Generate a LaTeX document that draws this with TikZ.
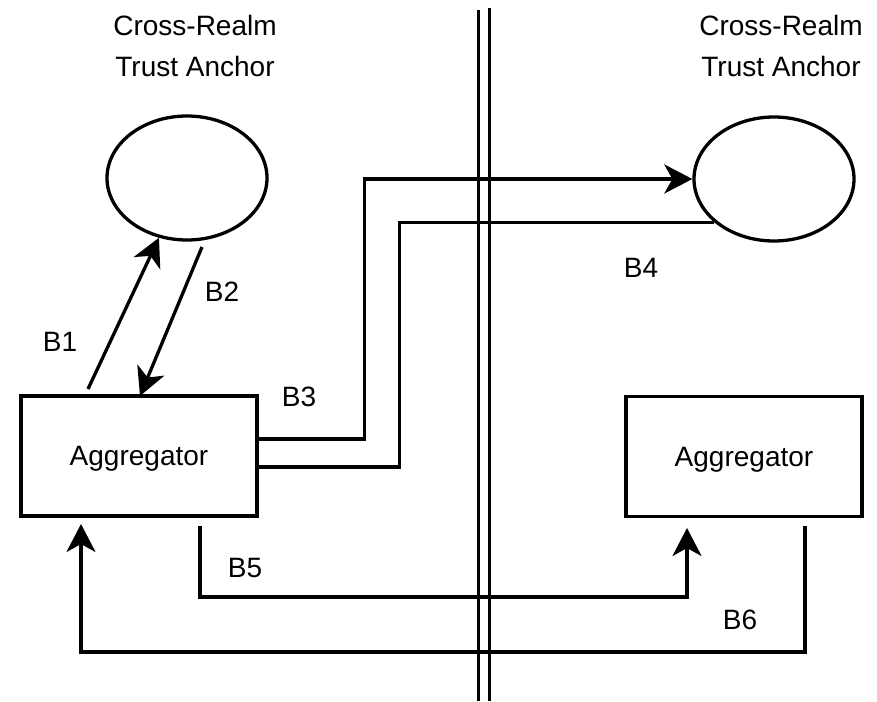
\documentclass[tikz,border=0pt]{standalone}
\usepackage{fontspec}
\setmainfont{Liberation Sans}
\usetikzlibrary{shapes.geometric,arrows.meta}
\begin{document}
\begin{tikzpicture}[x=1pt,y=-1pt,
  every node/.style={font=\fontsize{28}{41}\selectfont},
  wire/.style={line width=3.3pt,line join=miter},
  tip/.style={wire,-{Stealth[length=28pt,width=29pt,inset=8pt]}},
  anchorshape/.style={ellipse,draw,line width=3.3pt,minimum width=160pt,minimum height=124pt,inner sep=0pt},
  aggbox/.style={rectangle,draw,line width=3.3pt,minimum width=236pt,minimum height=120pt,text depth=0pt},
  lbl/.style={inner sep=0pt}]
\useasboundingbox (0,0) rectangle (877,701);

% realm boundary
\draw[line width=3pt] (478,10) -- (478,701);
\draw[line width=3pt] (489,8) -- (489,701);

% trust anchors and aggregators
\node[anchorshape] (lta) at (187,178) {};
\node[anchorshape] (rta) at (774,179) {};
\node[lbl,align=center] (ltal) at (195,46) {Cross-Realm\\Trust Anchor};
\node[lbl,align=center] (rtal) at (781,46) {Cross-Realm\\Trust Anchor};
\node[aggbox] (lagg) at (139,456) {Aggregator};
\node[aggbox] (ragg) at (744,456.5) {Aggregator};

% free ends of the connectors
\coordinate (b1s) at (88,389);
\coordinate (b2s) at (202,247);
\coordinate (b2e) at (140,396);
\coordinate (b5s) at (200,526);
\coordinate (b5e) at (687,528);
\coordinate (b6s) at (805,526);
\coordinate (b6e) at (81,524);

% B1 / B2
\draw[tip] (b1s) -- (lta);
\draw[tip] (b2s) -- (b2e);

% B3 / B4
\draw[tip] ([yshift=17pt]lagg.east) -- ++(106,0) |- (rta.west);
\draw[wire] ([yshift=-11pt]lagg.east) -- ++(141,0) |- (rta.216.6);

% B5 / B6
\draw[tip] (b5s) -- ++(0,71) -| (b5e);
\draw[tip] (b6s) -- ++(0,126) -| (b6e);

% connector labels
\node[lbl] (l1) at (60,342) {B1};
\node[lbl] (l2) at (222,292) {B2};
\node[lbl] (l3) at (299,397) {B3};
\node[lbl] (l4) at (641,268) {B4};
\node[lbl] (l5) at (245,568) {B5};
\node[lbl] (l6) at (740,620) {B6};
\end{tikzpicture}
\end{document}
